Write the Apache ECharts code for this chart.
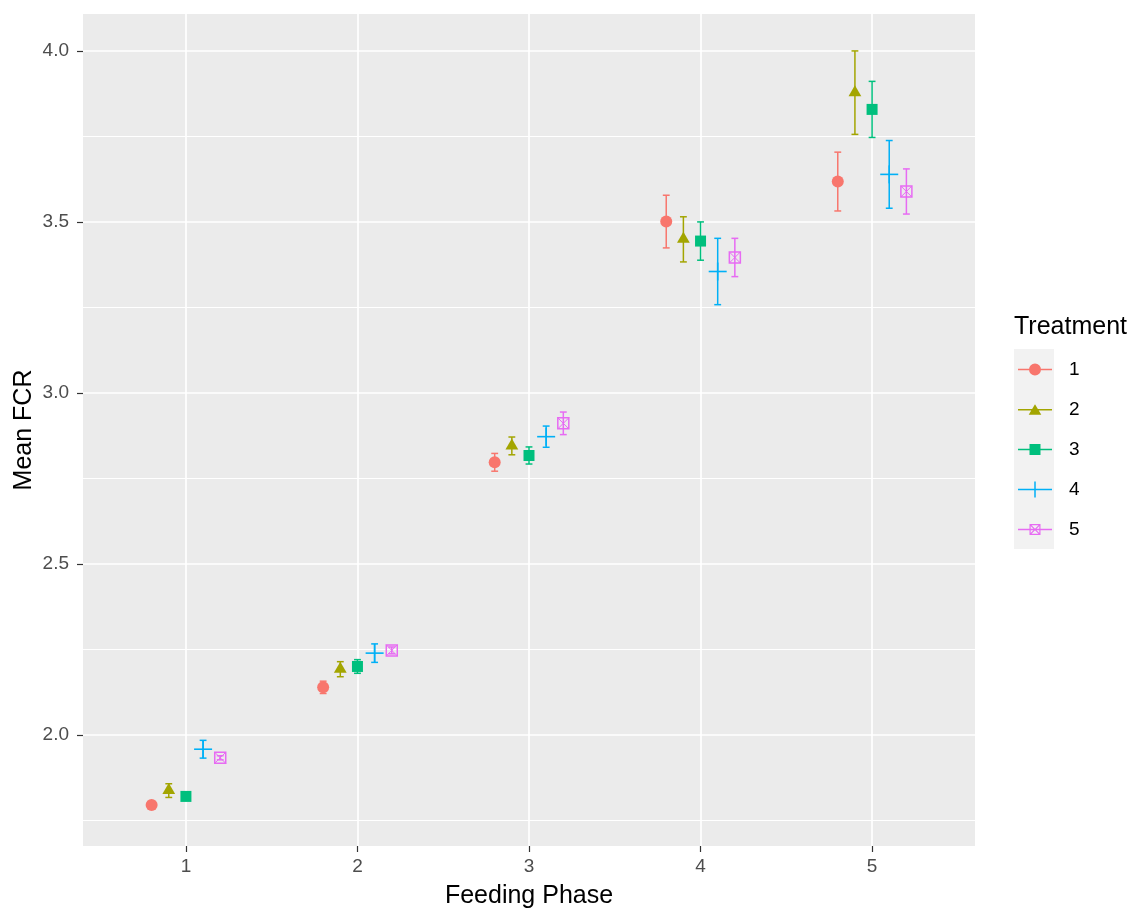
<!DOCTYPE html>
<html>
<head>
<meta charset="utf-8">
<script src="https://cdn.jsdelivr.net/npm/echarts@6/dist/echarts.min.js"></script>
<style>
  html, body { margin: 0; padding: 0; background: #ffffff; }
  #chart { width: 1135px; height: 911px; }
</style>
</head>
<body>
<div id="chart"></div>
<script>
// Feeding phases on the x axis and the five treatments
const phases = [1, 2, 3, 4, 5];
const treatments = ['1', '2', '3', '4', '5'];

// Mean FCR per phase for each treatment
const meanT1 = [1.795, 2.139, 2.797, 3.501, 3.618];
const meanT2 = [1.837, 2.192, 2.845, 3.449, 3.878];
const meanT3 = [1.820, 2.200, 2.817, 3.444, 3.829];
const meanT4 = [1.958, 2.239, 2.872, 3.355, 3.639];
const meanT5 = [1.933, 2.247, 2.911, 3.396, 3.589];

// Half-width of the error bars (standard error)
const seT1 = [0.006, 0.018, 0.026, 0.077, 0.086];
const seT2 = [0.020, 0.022, 0.026, 0.066, 0.122];
const seT3 = [0.010, 0.020, 0.025, 0.056, 0.082];
const seT4 = [0.026, 0.027, 0.031, 0.097, 0.099];
const seT5 = [0.006, 0.010, 0.033, 0.056, 0.066];

// Tick positions
const xTicks = [1, 2, 3, 4, 5];
const yMajorTicks = [2.0, 2.5, 3.0, 3.5, 4.0];
const yMinorTicks = [1.75, 2.25, 2.75, 3.25, 3.75];

const colors = ['#F8766D', '#A3A500', '#00BF7D', '#00B0F6', '#E76BF3'];
const means = [meanT1, meanT2, meanT3, meanT4, meanT5];
const ses = [seT1, seT2, seT3, seT4, seT5];
const dodge = 0.1;      // horizontal offset between treatments within a phase
const capHalf = 0.02;   // half width of the error-bar caps, in x units
const FONT = '"Liberation Sans", Arial, sans-serif';

// Legend keys: a horizontal line with the treatment's point shape on top
const keyLine = 'M0,7.25H34V8.75H0Z';
const legendIcons = [
  'path://' + keyLine + 'M11,8A6,6 0 1,1 23,8A6,6 0 1,1 11,8Z',
  'path://' + keyLine + 'M17,2.5L23.3,13L10.7,13Z',
  'path://' + keyLine + 'M11.5,2.5H22.5V13.5H11.5Z',
  'path://' + keyLine + 'M16.25,0H17.75V16H16.25Z',
  'path://' + keyLine + 'M11.5,2.5H22.5V13.5H11.5ZM12.7,3.7V12.3H21.3V3.7Z' +
    'M12.7,3.7L13.5,3.7L21.3,11.5L21.3,12.3L20.5,12.3L12.7,4.5Z' +
    'M20.5,3.7L21.3,3.7L21.3,4.5L13.5,12.3L12.7,12.3L12.7,11.5Z'
];

function markerShape(k, cx, cy, col) {
  switch (k) {
    case 0:
      return [{ type: 'circle', shape: { cx: cx, cy: cy, r: 6 }, style: { fill: col } }];
    case 1:
      return [{ type: 'polygon', shape: { points: [[cx, cy - 7.5], [cx + 6.4, cy + 3.5], [cx - 6.4, cy + 3.5]] }, style: { fill: col } }];
    case 2:
      return [{ type: 'rect', shape: { x: cx - 5.5, y: cy - 5.5, width: 11, height: 11 }, style: { fill: col } }];
    case 3:
      return [
        { type: 'line', shape: { x1: cx - 9, y1: cy, x2: cx + 9, y2: cy }, style: { stroke: col, lineWidth: 1.6 } },
        { type: 'line', shape: { x1: cx, y1: cy - 9, x2: cx, y2: cy + 9 }, style: { stroke: col, lineWidth: 1.6 } }
      ];
    default:
      return [
        { type: 'rect', shape: { x: cx - 5.5, y: cy - 5.5, width: 11, height: 11 }, style: { fill: null, stroke: col, lineWidth: 1.5 } },
        { type: 'line', shape: { x1: cx - 5.5, y1: cy - 5.5, x2: cx + 5.5, y2: cy + 5.5 }, style: { stroke: col, lineWidth: 1 } },
        { type: 'line', shape: { x1: cx + 5.5, y1: cy - 5.5, x2: cx - 5.5, y2: cy + 5.5 }, style: { stroke: col, lineWidth: 1 } }
      ];
  }
}

function makeRenderItem(k) {
  return function (params, api) {
    const x = api.value(0), m = api.value(1), lo = api.value(2), hi = api.value(3);
    const col = colors[k];
    const c = api.coord([x, m]);
    const pLo = api.coord([x, lo]);
    const pHi = api.coord([x, hi]);
    const capL = api.coord([x - capHalf, lo])[0];
    const capR = api.coord([x + capHalf, lo])[0];
    const bar = { stroke: col, lineWidth: 1.5 };
    const children = [
      { type: 'line', shape: { x1: pLo[0], y1: pLo[1], x2: pHi[0], y2: pHi[1] }, style: bar },
      { type: 'line', shape: { x1: capL, y1: pLo[1], x2: capR, y2: pLo[1] }, style: bar },
      { type: 'line', shape: { x1: capL, y1: pHi[1], x2: capR, y2: pHi[1] }, style: bar }
    ].concat(markerShape(k, c[0], c[1], col));
    return { type: 'group', children: children };
  };
}

const treatmentSeries = treatments.map(function (name, k) {
  return {
    name: name,
    type: 'custom',
    z: 10,
    itemStyle: { color: colors[k] },
    renderItem: makeRenderItem(k),
    encode: { x: 0, y: [1, 2, 3] },
    data: phases.map(function (p, i) {
      const m = means[k][i], s = ses[k][i];
      return [p + (k - 2) * dodge, m, m - s, m + s];
    })
  };
});

// White panel grid lines, kept beneath the points
const gridLines = {
  name: 'grid-lines',
  type: 'line',
  z: 1,
  data: [],
  silent: true,
  markLine: {
    z: 1,
    silent: true,
    animation: false,
    symbol: ['none', 'none'],
    label: { show: false },
    emphasis: { disabled: true },
    data: []
      .concat(yMinorTicks.map(v => ({ yAxis: v, lineStyle: { color: '#ffffff', width: 1.0, type: 'solid' } })))
      .concat(yMajorTicks.map(v => ({ yAxis: v, lineStyle: { color: '#ffffff', width: 1.7, type: 'solid' } })))
      .concat(xTicks.map(v => ({ xAxis: v, lineStyle: { color: '#ffffff', width: 1.7, type: 'solid' } })))
  }
};

const chart = echarts.init(document.getElementById('chart'), null, { renderer: 'canvas' });
chart.setOption({
  animation: false,
  backgroundColor: '#ffffff',
  textStyle: { fontFamily: FONT },
  grid: {
    left: 83, right: 160, top: 14, bottom: 65,
    outerBoundsMode: 'none',
    containLabel: false,
    show: true, backgroundColor: '#EBEBEB', borderWidth: 0
  },
  xAxis: {
    type: 'value',
    min: 0.4,
    max: 5.6,
    axisLine: { show: false },
    splitLine: { show: false },
    axisTick: { show: true, customValues: xTicks, length: 6, lineStyle: { color: '#333333', width: 1.2 } },
    axisLabel: { customValues: xTicks, color: '#4D4D4D', fontSize: 19, fontFamily: FONT, margin: 11 },
    name: 'Feeding Phase',
    nameLocation: 'middle',
    nameGap: 38,
    nameMoveOverlap: false,
    nameTextStyle: { color: '#000000', fontSize: 25, fontFamily: FONT }
  },
  yAxis: {
    type: 'value',
    min: 1.675,
    max: 4.108,
    axisLine: { show: false },
    splitLine: { show: false },
    axisTick: { show: true, customValues: yMajorTicks, length: 6, lineStyle: { color: '#333333', width: 1.2 } },
    axisLabel: {
      customValues: yMajorTicks, color: '#4D4D4D', fontSize: 19, fontFamily: FONT, margin: 14,
      formatter: v => Number(v).toFixed(1)
    },
    name: 'Mean FCR',
    nameLocation: 'middle',
    nameGap: 46,
    nameMoveOverlap: false,
    nameTextStyle: { color: '#000000', fontSize: 25, fontFamily: FONT }
  },
  legend: {
    orient: 'vertical',
    left: 1013,
    top: 355,
    itemWidth: 34,
    itemHeight: 16,
    itemGap: 21,
    selectedMode: false,
    data: treatments.map((t, k) => ({ name: t, icon: legendIcons[k] })),
    textStyle: { color: '#000000', fontSize: 19, fontFamily: FONT, padding: [0, 0, 0, 12] }
  },
  graphic: [
    { type: 'rect', z: 0, left: 1014, top: 349, shape: { width: 40, height: 200 }, style: { fill: '#F2F2F2' } },
    { type: 'text', z: 0, left: 1014, top: 315, style: { text: 'Treatment', fill: '#000000', fontSize: 25, fontFamily: FONT } }
  ],
  series: [gridLines].concat(treatmentSeries)
});
</script>
</body>
</html>
